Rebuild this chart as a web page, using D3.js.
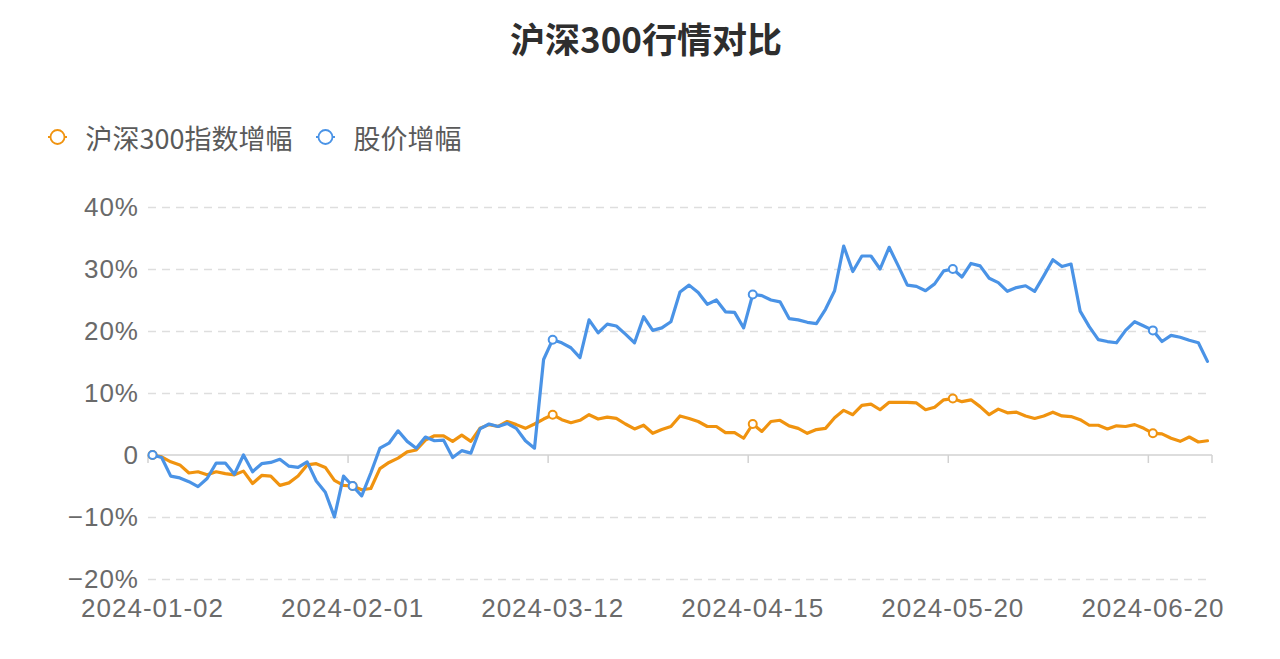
<!DOCTYPE html>
<html>
<head>
<meta charset="utf-8">
<script src="https://cdn.jsdelivr.net/npm/d3@7"></script>
<style>
  html, body { margin: 0; padding: 0; background: #fff; }
  svg { display: block; }
</style>
</head>
<body>
<main></main>
<script>
// trading days, 2024-01-02 .. 2024-06-28
const dates = [
  "2024-01-02","2024-01-03","2024-01-04","2024-01-05","2024-01-08","2024-01-09","2024-01-10","2024-01-11","2024-01-12",
  "2024-01-15","2024-01-16","2024-01-17","2024-01-18","2024-01-19","2024-01-22","2024-01-23","2024-01-24","2024-01-25",
  "2024-01-26","2024-01-29","2024-01-30","2024-01-31","2024-02-01","2024-02-02","2024-02-05","2024-02-06","2024-02-07",
  "2024-02-08","2024-02-19","2024-02-20","2024-02-21","2024-02-22","2024-02-23","2024-02-26","2024-02-27","2024-02-28",
  "2024-02-29","2024-03-01","2024-03-04","2024-03-05","2024-03-06","2024-03-07","2024-03-08","2024-03-11","2024-03-12",
  "2024-03-13","2024-03-14","2024-03-15","2024-03-18","2024-03-19","2024-03-20","2024-03-21","2024-03-22","2024-03-25",
  "2024-03-26","2024-03-27","2024-03-28","2024-03-29","2024-04-01","2024-04-02","2024-04-03","2024-04-08","2024-04-09",
  "2024-04-10","2024-04-11","2024-04-12","2024-04-15","2024-04-16","2024-04-17","2024-04-18","2024-04-19","2024-04-22",
  "2024-04-23","2024-04-24","2024-04-25","2024-04-26","2024-04-29","2024-04-30","2024-05-06","2024-05-07","2024-05-08",
  "2024-05-09","2024-05-10","2024-05-13","2024-05-14","2024-05-15","2024-05-16","2024-05-17","2024-05-20","2024-05-21",
  "2024-05-22","2024-05-23","2024-05-24","2024-05-27","2024-05-28","2024-05-29","2024-05-30","2024-05-31","2024-06-03",
  "2024-06-04","2024-06-05","2024-06-06","2024-06-07","2024-06-11","2024-06-12","2024-06-13","2024-06-14","2024-06-17",
  "2024-06-18","2024-06-19","2024-06-20","2024-06-21","2024-06-24","2024-06-25","2024-06-26","2024-06-27","2024-06-28"
];

// 沪深300指数增幅 (%)
const csi300 = [
  0, -0.3, -1.1, -1.6, -2.9, -2.7, -3.2, -2.7, -3.0, -3.2, -2.6, -4.6, -3.3, -3.4, -4.9, -4.5, -3.4, -1.6, -1.4, -2.0,
  -4.1, -4.9, -5.0, -5.6, -5.4, -2.2, -1.2, -0.5, 0.5, 0.8, 2.4, 3.1, 3.1, 2.2, 3.2, 2.2, 4.3, 4.9, 4.6, 5.4,
  4.9, 4.3, 5.0, 5.8, 6.5, 5.7, 5.2, 5.6, 6.5, 5.8, 6.1, 5.9, 5.0, 4.2, 4.8, 3.5, 4.1, 4.6, 6.3, 5.9,
  5.4, 4.6, 4.6, 3.6, 3.6, 2.7, 5.0, 3.8, 5.4, 5.6, 4.7, 4.3, 3.5, 4.1, 4.3, 6.0, 7.2, 6.5, 8.0, 8.2,
  7.3, 8.5, 8.5, 8.5, 8.4, 7.3, 7.7, 8.9, 9.1, 8.6, 8.9, 7.8, 6.5, 7.4, 6.8, 6.9, 6.3, 5.9, 6.3, 6.9,
  6.3, 6.2, 5.7, 4.8, 4.8, 4.2, 4.7, 4.6, 4.9, 4.3, 3.5, 3.4, 2.7, 2.2, 2.9, 2.1, 2.3
];

// 股价增幅 (%)
const stock = [
  0, -0.4, -3.4, -3.7, -4.3, -5.1, -3.8, -1.3, -1.3, -3.1, 0.0, -2.7, -1.4, -1.2, -0.7, -1.8, -2.0, -1.1, -4.2, -6.0,
  -10.0, -3.4, -5.0, -6.6, -2.9, 1.1, 1.9, 3.9, 2.2, 1.1, 2.9, 2.3, 2.4, -0.4, 0.7, 0.3, 4.2, 5.0, 4.6, 5.1,
  4.3, 2.3, 1.1, 15.4, 18.6, 18.1, 17.3, 15.7, 21.8, 19.7, 21.1, 20.8, 19.5, 18.1, 22.3, 20.1, 20.5, 21.5, 26.3, 27.4,
  26.2, 24.3, 25.0, 23.1, 23.0, 20.5, 25.9, 25.7, 25.0, 24.7, 22.0, 21.8, 21.4, 21.2, 23.5, 26.5, 33.7, 29.6, 32.1, 32.1,
  30.0, 33.5, 30.5, 27.4, 27.2, 26.5, 27.6, 29.7, 30.0, 28.7, 30.9, 30.5, 28.5, 27.8, 26.4, 27.0, 27.3, 26.4, 28.9, 31.5,
  30.4, 30.8, 23.2, 20.7, 18.6, 18.3, 18.1, 20.1, 21.5, 20.8, 20.1, 18.3, 19.3, 19.0, 18.5, 18.1, 15.1
];

const seriesNames = ["沪深300指数增幅", "股价增幅"];
const seriesColors = ["#f0930f", "#4a93e6"];
const yTicks = [-20, -10, 0, 10, 20, 30, 40];
const labelEvery = 22;
const chartTitle = "沪深300行情对比";

const W = 1280, H = 659;
const gLeft = 148, gRight = 1212, gTop = 207, gBottom = 579;

const svg = d3.select("main").append("svg")
  .attr("width", W).attr("height", H).attr("viewBox", `0 0 ${W} ${H}`)
  .style("background", "#fff");

const scaleX = d3.scaleBand().domain(dates).range([gLeft, gRight]);
const px = d => scaleX(d) + scaleX.bandwidth() / 2;
const scaleY = d3.scaleLinear().domain([-20, 40]).range([gBottom, gTop]);

const numFont = "'Liberation Sans', Arial, 'Noto Sans CJK SC', sans-serif";
const cjkFont = "'Noto Sans CJK SC', sans-serif";

// title
svg.append("text")
  .attr("x", 646).attr("y", 37)
  .attr("text-anchor", "middle").attr("dominant-baseline", "central")
  .style("font", `bold 35px ${cjkFont}`).attr("fill", "#2e2e2e")
  .text(chartTitle);

// y axis with dashed grid
const fmt = v => v === 0 ? "0" : (v < 0 ? "\u2212" + Math.abs(v) : v) + "%";
const yAxis = svg.append("g")
  .attr("transform", `translate(${gLeft},0)`)
  .call(d3.axisLeft(scaleY).tickValues(yTicks).tickSize(-(gRight - gLeft)).tickPadding(9).tickFormat(fmt));
yAxis.select(".domain").remove();
yAxis.selectAll(".tick line")
  .attr("stroke", d => d === 0 ? "none" : "#dedede")
  .attr("stroke-width", 1.5)
  .attr("stroke-dasharray", "8 6");
yAxis.selectAll(".tick text")
  .style("font", `26px ${numFont}`).style("letter-spacing", "1px").attr("fill", "#6a6a6a");

// x axis line on zero, ticks at band boundaries
const y0 = scaleY(0);
const tickDates = dates.filter((d, i) => i % labelEvery === 0);
const xLine = svg.append("g");
xLine.append("line")
  .attr("x1", gLeft).attr("x2", gRight).attr("y1", y0).attr("y2", y0)
  .attr("stroke", "#d2d2d2").attr("stroke-width", 1.5);
xLine.selectAll("line.tk")
  .data(tickDates.map(d => scaleX(d)).concat([gRight]))
  .join("line").attr("class", "tk")
  .attr("x1", d => d).attr("x2", d => d)
  .attr("y1", y0).attr("y2", y0 + 8)
  .attr("stroke", "#d2d2d2").attr("stroke-width", 1.5);

// x labels at the bottom of the grid
const xAxis = svg.append("g")
  .attr("transform", `translate(0,${gBottom})`)
  .call(d3.axisBottom(scaleX).tickValues(tickDates).tickSize(0).tickPadding(20));
xAxis.select(".domain").remove();
xAxis.selectAll(".tick text")
  .style("font", `26px ${numFont}`).style("letter-spacing", "1px").attr("fill", "#6a6a6a");

// lines
const line = d3.line()
  .x((d, i) => px(dates[i]))
  .y(d => scaleY(d));

const series = [csi300, stock];
const gs = svg.append("g").selectAll("g")
  .data(series)
  .join("g");

gs.append("path")
  .attr("fill", "none")
  .attr("stroke", (d, i) => seriesColors[i])
  .attr("stroke-width", 3.2)
  .attr("stroke-linejoin", "round")
  .attr("stroke-linecap", "round")
  .attr("d", line);

gs.each(function (vals, si) {
  d3.select(this).selectAll("circle")
    .data(vals.map((v, i) => ({ v, i })).filter(p => p.i % labelEvery === 0))
    .join("circle")
    .attr("cx", p => px(dates[p.i]))
    .attr("cy", p => scaleY(p.v))
    .attr("r", 4)
    .attr("fill", "#fff")
    .attr("stroke", seriesColors[si])
    .attr("stroke-width", 2);
});

// legend
const legend = svg.append("g").attr("transform", "translate(0,137)");
let cx = 57.5;
seriesNames.forEach((name, i) => {
  const item = legend.append("g");
  item.append("line")
    .attr("x1", cx - 9.5).attr("x2", cx + 9.5)
    .attr("stroke", seriesColors[i]).attr("stroke-width", 2);
  item.append("circle")
    .attr("cx", cx).attr("r", 7)
    .attr("fill", "#fff").attr("stroke", seriesColors[i]).attr("stroke-width", 1.8);
  const t = item.append("text")
    .attr("x", cx + 28).attr("dominant-baseline", "central")
    .style("font", `27px ${cjkFont}`).attr("fill", "#5a5a5a")
    .text(name);
  cx = cx + 28 + t.node().getComputedTextLength() + 33;
});
</script>
</body>
</html>
